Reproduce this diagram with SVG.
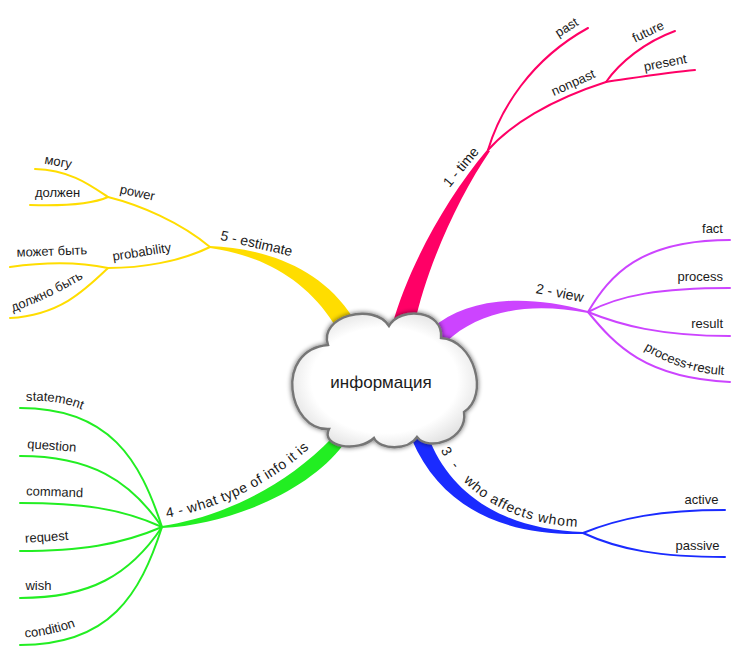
<svg xmlns="http://www.w3.org/2000/svg" xmlns:xlink="http://www.w3.org/1999/xlink" width="741" height="668" viewBox="0 0 741 668">
<style>
.t{font-family:"Liberation Sans",Arial,Helvetica,sans-serif;font-size:13px;fill:#1a1a1a}
.m{font-size:14px}
.ls{letter-spacing:0.5px}
.ls2{letter-spacing:0.9px}
.c{font-size:17px}
.ln{fill:none;stroke-width:2;stroke-linecap:round}
.pk{stroke:#ff0066}.pkf{fill:#ff0066}
.pu{stroke:#cc44ff}.puf{fill:#cc44ff}
.bl{stroke:#1a2bff}.blf{fill:#1a2bff}
.gr{stroke:#22ee22}.grf{fill:#22ee22}
.ye{stroke:#ffdd00}.yef{fill:#ffdd00}
</style>
<defs>
<filter id="sh" x="-20%" y="-20%" width="140%" height="140%">
<feGaussianBlur in="SourceAlpha" stdDeviation="2.4"/>
<feComponentTransfer><feFuncA type="linear" slope="0.6"/></feComponentTransfer>
<feMerge><feMergeNode/><feMergeNode in="SourceGraphic"/></feMerge>
</filter>
<radialGradient id="cg" cx="50%" cy="50%" r="55%">
<stop offset="0.72" stop-color="#ffffff"/>
<stop offset="1" stop-color="#e2e2e2"/>
</radialGradient>
<path id="p-statement" d="M26,401 C50,400 70,403 92,414"/>
<path id="p-condition" d="M25,637.5 C45,636 62,632 82,624"/>
<path id="p-procres" d="M632,342 C658,360 688,373 724,375"/>
<path id="p-dolzhno" d="M13,312 C38,302 62,292 92,273"/>
<path id="p-who" d="M433,434 C455,490 508,525 583,527"/>
<path id="p-what" d="M165,518 C215,510 276,485 326,432"/>
</defs>
<rect width="741" height="668" fill="#ffffff"/>
<g id="connectors">
<path class="pkf" d="M392,326 C408,268 445,200 487,150 L490,151 C460,195 428,262 414,326 Z"/>
<path class="ln pk" d="M488,150 C500,110 530,60 588,28"/>
<path class="ln pk" d="M488,150 C510,125 550,100 606,82"/>
<path class="ln pk" d="M606,82 C620,62 645,42 675,31"/>
<path class="ln pk" d="M606,82 C640,77 670,72 695,70"/>
<path class="puf" d="M432,328 C465,300 520,292 588,311 L588,313 C530,302 480,310 446,342 Z"/>
<path class="ln pu" d="M588,312 C610,275 640,240 730,240"/>
<path class="ln pu" d="M588,312 C620,295 660,288 730,288"/>
<path class="ln pu" d="M588,312 C620,325 660,336 730,336"/>
<path class="ln pu" d="M588,312 C615,345 645,378 730,382"/>
<path class="blf" d="M428,436 C450,495 505,530 583,532 L583,534 C500,536 440,505 412,440 Z"/>
<path class="ln bl" d="M583,533 C620,518 660,510 725,510"/>
<path class="ln bl" d="M583,533 C620,550 660,557 725,557"/>
<path class="grf" d="M162,526 C215,518 280,492 333,437 L340,430 L352,438 L343,445 C310,490 230,525 162,528 Z"/>
<path class="ln gr" d="M162,527 C140,460 110,408 20,408"/>
<path class="ln gr" d="M162,527 C130,480 90,456 20,456"/>
<path class="ln gr" d="M162,527 C120,508 80,503 20,503"/>
<path class="ln gr" d="M162,527 C120,545 80,551 20,551"/>
<path class="ln gr" d="M162,527 C130,575 90,598 20,598"/>
<path class="ln gr" d="M162,527 C140,595 110,645 20,645"/>
<path class="yef" d="M210,246 C260,248 320,265 353,318 L334,324 C305,278 260,255 210,248 Z"/>
<path class="ln ye" d="M210,247 C180,222 140,205 108,197"/>
<path class="ln ye" d="M210,247 C180,262 140,268 108,268"/>
<path class="ln ye" d="M108,197 C90,185 70,170 35,169"/>
<path class="ln ye" d="M108,197 C90,205 60,206 30,205"/>
<path class="ln ye" d="M108,268 C80,262 45,262 10,267"/>
<path class="ln ye" d="M108,268 C85,290 60,315 10,318"/>
</g>
<g id="center">
<path d="M328,345 C318,316 374,302 389,326 C400,306 444,310 441,338 C474,340 490,395 464,412 C468,440 428,452 417,437 C408,451 380,450 374,438 C358,453 320,447 329,429 C288,431 273,350 328,345 Z" fill="url(#cg)" stroke="#767676" stroke-width="2.4" filter="url(#sh)"/>
<text class="t c" x="381" y="388" text-anchor="middle">информация</text>
</g>
<g id="n-time"><text class="t m" x="464.5" y="170" text-anchor="middle" transform="rotate(-50 464.5 170)">1 - time</text></g>
<g id="n-past"><text class="t" x="569" y="31" text-anchor="middle" transform="rotate(-32 569 31)">past</text></g>
<g id="n-nonpast"><text class="t" x="575" y="86.5" text-anchor="middle" transform="rotate(-24 575 86.5)">nonpast</text></g>
<g id="n-future"><text class="t" x="650" y="35.5" text-anchor="middle" transform="rotate(-26 650 35.5)">future</text></g>
<g id="n-present"><text class="t" x="666" y="67" text-anchor="middle" transform="rotate(-11 666 67)">present</text></g>
<g id="n-view"><text class="t m" x="559" y="297.5" text-anchor="middle" transform="rotate(11 559 297.5)">2 - view</text></g>
<g id="n-fact"><text class="t" x="723" y="233" text-anchor="end">fact</text></g>
<g id="n-process"><text class="t" x="723" y="281" text-anchor="end">process</text></g>
<g id="n-result"><text class="t" x="723" y="327.5" text-anchor="end">result</text></g>
<g id="n-procres"><text class="t" text-anchor="end"><textPath xlink:href="#p-procres" href="#p-procres" startOffset="100%">process+result</textPath></text></g>
<g id="n-who"><text class="t m ls2" style="white-space:pre"><textPath xlink:href="#p-who" href="#p-who" startOffset="18">3  -   who affects whom</textPath></text></g>
<g id="n-active"><text class="t" x="718.5" y="503.5" text-anchor="end">active</text></g>
<g id="n-passive"><text class="t" x="719.5" y="550" text-anchor="end">passive</text></g>
<g id="n-what"><text class="t m ls"><textPath xlink:href="#p-what" href="#p-what" startOffset="2">4 - what type of info it is</textPath></text></g>
<g id="n-statement"><text class="t"><textPath xlink:href="#p-statement" href="#p-statement">statement</textPath></text></g>
<g id="n-question"><text class="t" x="51.5" y="450" text-anchor="middle" transform="rotate(4 51.5 450)">question</text></g>
<g id="n-command"><text class="t" x="54.5" y="496.2" text-anchor="middle" transform="rotate(2 54.5 496.2)">command</text></g>
<g id="n-request"><text class="t" x="47" y="541.3" text-anchor="middle" transform="rotate(-4 47 541.3)">request</text></g>
<g id="n-wish"><text class="t" x="38.5" y="589.5" text-anchor="middle">wish</text></g>
<g id="n-condition"><text class="t"><textPath xlink:href="#p-condition" href="#p-condition">condition</textPath></text></g>
<g id="n-estimate"><text class="t m" x="255.5" y="248" text-anchor="middle" transform="rotate(13 255.5 248)">5 - estimate</text></g>
<g id="n-power"><text class="t" x="136.5" y="197" text-anchor="middle" transform="rotate(12 136.5 197)">power</text></g>
<g id="n-probability"><text class="t" x="142.5" y="256.2" text-anchor="middle" transform="rotate(-9 142.5 256.2)">probability</text></g>
<g id="n-mogu"><text class="t" x="57.5" y="166" text-anchor="middle" transform="rotate(11 57.5 166)">могу</text></g>
<g id="n-dolzhen"><text class="t" x="57.5" y="197.3" text-anchor="middle">должен</text></g>
<g id="n-mozhet"><text class="t" x="52" y="255.5" text-anchor="middle" transform="rotate(-2 52 255.5)">может быть</text></g>
<g id="n-dolzhno"><text class="t"><textPath xlink:href="#p-dolzhno" href="#p-dolzhno">должно быть</textPath></text></g>
</svg>
